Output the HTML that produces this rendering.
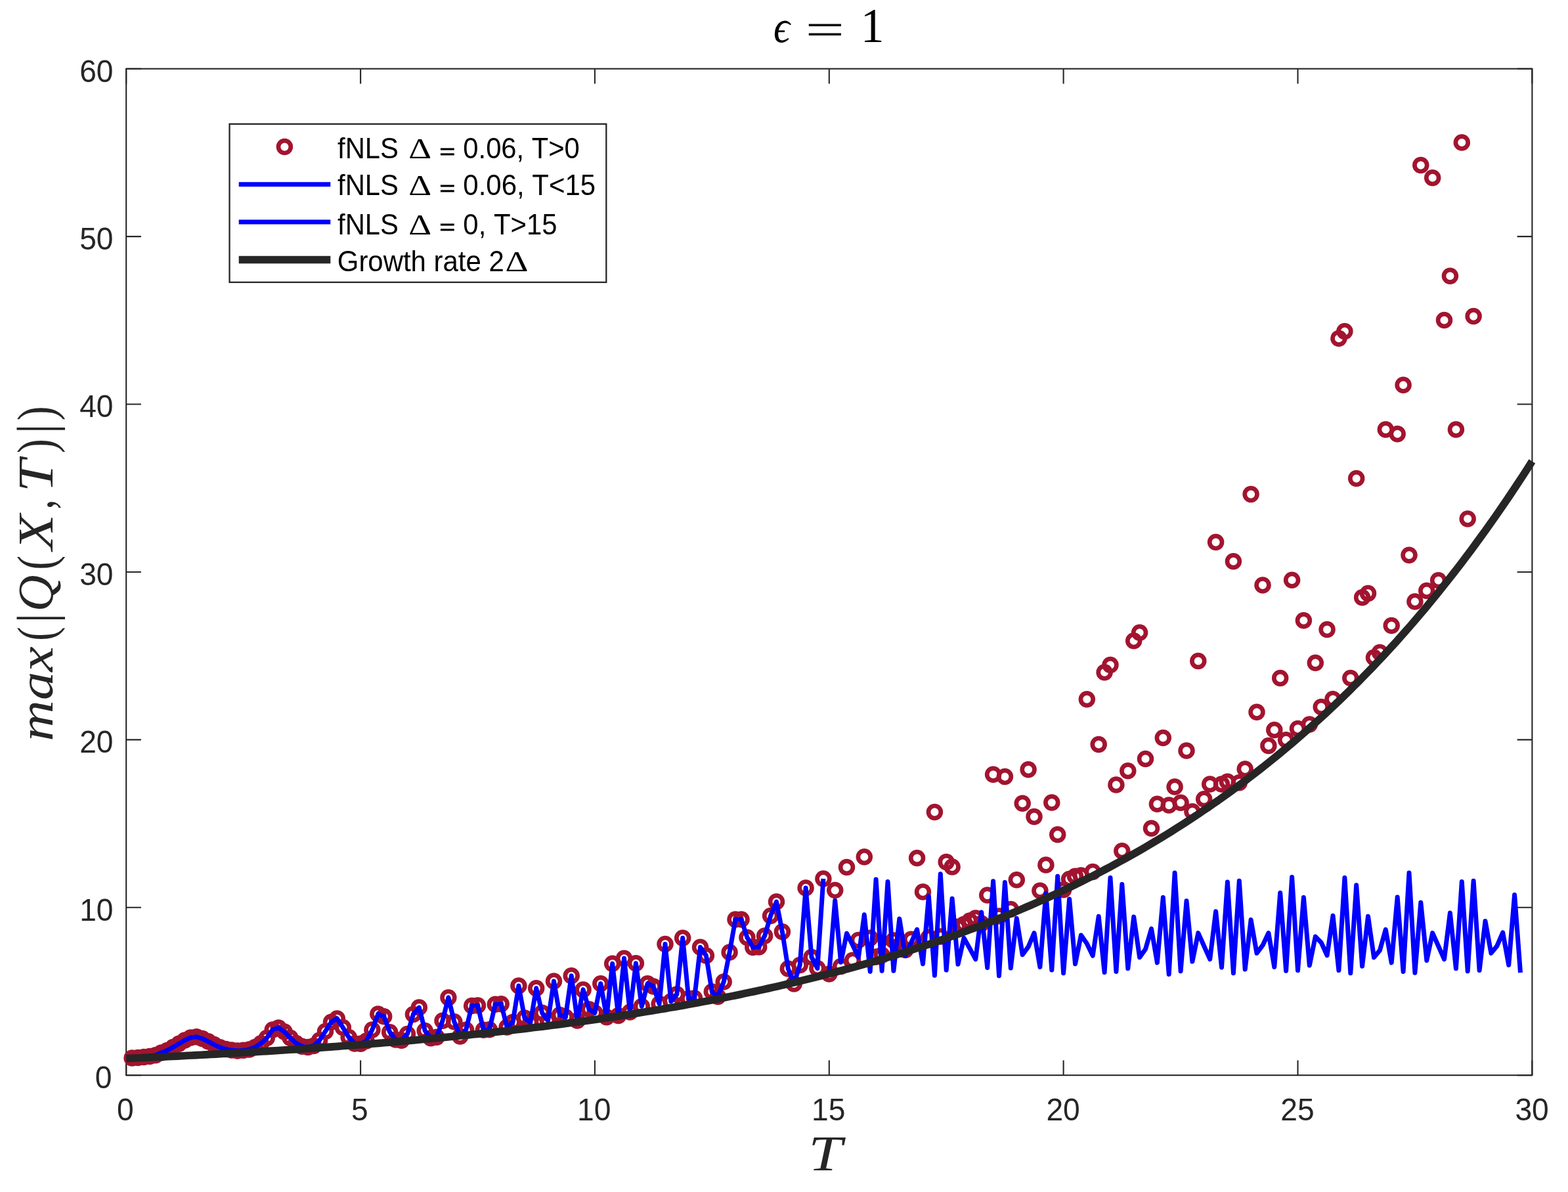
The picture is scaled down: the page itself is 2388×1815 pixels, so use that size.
<!DOCTYPE html>
<html lang="en"><head><meta charset="utf-8"><title>fNLS growth plot</title>
<style>html,body{margin:0;padding:0;background:#fff}svg{display:block}.tk{font-family:"Liberation Sans",sans-serif;font-size:48px;fill:#262626}.lg{font-family:"Liberation Sans",sans-serif;font-size:42.5px;fill:#000}.mi{font-family:"Liberation Serif","DejaVu Serif",serif;font-style:italic;fill:#262626}.mr{font-family:"Liberation Serif","DejaVu Serif",serif;fill:#000}</style></head><body>
<svg width="2388" height="1815" viewBox="0 0 2388 1815">
<rect width="2388" height="1815" fill="#fff"/>
<g stroke="#262626" stroke-width="2.1" fill="none">
<rect x="192.2" y="104.7" width="2141.2" height="1532.5"/>
<path d="M192.2 1637.2v-22.7M192.2 104.7v22.7M549.1 1637.2v-22.7M549.1 104.7v22.7M905.9 1637.2v-22.7M905.9 104.7v22.7M1262.8 1637.2v-22.7M1262.8 104.7v22.7M1619.6 1637.2v-22.7M1619.6 104.7v22.7M1976.5 1637.2v-22.7M1976.5 104.7v22.7M2333.3 1637.2v-22.7M2333.3 104.7v22.7M192.2 1637.2h22.7M2333.3 1637.2h-22.7M192.2 1381.8h22.7M2333.3 1381.8h-22.7M192.2 1126.4h22.7M2333.3 1126.4h-22.7M192.2 871.0h22.7M2333.3 871.0h-22.7M192.2 615.5h22.7M2333.3 615.5h-22.7M192.2 360.1h22.7M2333.3 360.1h-22.7M192.2 104.7h22.7M2333.3 104.7h-22.7"/>
</g>
<g fill="none" stroke="#a2142f" stroke-width="6.70">
<circle cx="201.1" cy="1611.0" r="9.40"/>
<circle cx="210.0" cy="1610.5" r="9.40"/>
<circle cx="219.0" cy="1609.6" r="9.40"/>
<circle cx="227.9" cy="1608.5" r="9.40"/>
<circle cx="236.8" cy="1606.7" r="9.40"/>
<circle cx="245.7" cy="1603.1" r="9.40"/>
<circle cx="254.7" cy="1599.5" r="9.40"/>
<circle cx="263.6" cy="1594.6" r="9.40"/>
<circle cx="272.5" cy="1589.2" r="9.40"/>
<circle cx="281.4" cy="1584.0" r="9.40"/>
<circle cx="290.3" cy="1579.9" r="9.40"/>
<circle cx="299.3" cy="1578.8" r="9.40"/>
<circle cx="308.2" cy="1581.5" r="9.40"/>
<circle cx="317.1" cy="1585.8" r="9.40"/>
<circle cx="326.0" cy="1590.6" r="9.40"/>
<circle cx="334.9" cy="1594.8" r="9.40"/>
<circle cx="343.9" cy="1597.5" r="9.40"/>
<circle cx="352.8" cy="1599.1" r="9.40"/>
<circle cx="361.7" cy="1600.0" r="9.40"/>
<circle cx="370.6" cy="1599.3" r="9.40"/>
<circle cx="379.6" cy="1597.9" r="9.40"/>
<circle cx="388.5" cy="1594.6" r="9.40"/>
<circle cx="397.4" cy="1588.7" r="9.40"/>
<circle cx="406.3" cy="1580.5" r="9.40"/>
<circle cx="415.2" cy="1567.9" r="9.40"/>
<circle cx="424.2" cy="1565.0" r="9.40"/>
<circle cx="433.1" cy="1571.1" r="9.40"/>
<circle cx="442.0" cy="1580.2" r="9.40"/>
<circle cx="450.9" cy="1588.5" r="9.40"/>
<circle cx="459.8" cy="1593.2" r="9.40"/>
<circle cx="468.8" cy="1594.4" r="9.40"/>
<circle cx="477.7" cy="1592.5" r="9.40"/>
<circle cx="486.6" cy="1584.1" r="9.40"/>
<circle cx="495.5" cy="1570.4" r="9.40"/>
<circle cx="504.5" cy="1556.3" r="9.40"/>
<circle cx="513.4" cy="1550.9" r="9.40"/>
<circle cx="522.3" cy="1564.6" r="9.40"/>
<circle cx="531.2" cy="1579.4" r="9.40"/>
<circle cx="540.1" cy="1588.9" r="9.40"/>
<circle cx="549.1" cy="1589.3" r="9.40"/>
<circle cx="558.0" cy="1584.9" r="9.40"/>
<circle cx="566.9" cy="1567.9" r="9.40"/>
<circle cx="575.8" cy="1544.0" r="9.40"/>
<circle cx="584.7" cy="1547.8" r="9.40"/>
<circle cx="593.7" cy="1571.7" r="9.40"/>
<circle cx="602.6" cy="1583.1" r="9.40"/>
<circle cx="611.5" cy="1584.2" r="9.40"/>
<circle cx="620.4" cy="1574.4" r="9.40"/>
<circle cx="629.4" cy="1544.4" r="9.40"/>
<circle cx="638.3" cy="1534.1" r="9.40"/>
<circle cx="647.2" cy="1569.4" r="9.40"/>
<circle cx="656.1" cy="1580.8" r="9.40"/>
<circle cx="665.0" cy="1579.2" r="9.40"/>
<circle cx="674.0" cy="1554.2" r="9.40"/>
<circle cx="682.9" cy="1518.9" r="9.40"/>
<circle cx="691.8" cy="1555.8" r="9.40"/>
<circle cx="700.7" cy="1578.1" r="9.40"/>
<circle cx="709.6" cy="1568.3" r="9.40"/>
<circle cx="718.6" cy="1531.4" r="9.40"/>
<circle cx="727.5" cy="1530.9" r="9.40"/>
<circle cx="736.4" cy="1568.3" r="9.40"/>
<circle cx="745.3" cy="1567.8" r="9.40"/>
<circle cx="754.3" cy="1529.2" r="9.40"/>
<circle cx="763.2" cy="1528.7" r="9.40"/>
<circle cx="772.1" cy="1564.0" r="9.40"/>
<circle cx="781.0" cy="1556.4" r="9.40"/>
<circle cx="789.9" cy="1501.0" r="9.40"/>
<circle cx="798.9" cy="1549.9" r="9.40"/>
<circle cx="807.8" cy="1556.9" r="9.40"/>
<circle cx="816.7" cy="1504.8" r="9.40"/>
<circle cx="825.6" cy="1542.3" r="9.40"/>
<circle cx="834.5" cy="1554.2" r="9.40"/>
<circle cx="843.5" cy="1494.0" r="9.40"/>
<circle cx="852.4" cy="1545.5" r="9.40"/>
<circle cx="861.3" cy="1548.7" r="9.40"/>
<circle cx="870.2" cy="1485.8" r="9.40"/>
<circle cx="879.2" cy="1554.1" r="9.40"/>
<circle cx="888.1" cy="1506.9" r="9.40"/>
<circle cx="897.0" cy="1536.8" r="9.40"/>
<circle cx="905.9" cy="1542.2" r="9.40"/>
<circle cx="914.8" cy="1497.7" r="9.40"/>
<circle cx="923.8" cy="1548.7" r="9.40"/>
<circle cx="932.7" cy="1467.3" r="9.40"/>
<circle cx="941.6" cy="1546.5" r="9.40"/>
<circle cx="950.5" cy="1459.2" r="9.40"/>
<circle cx="959.4" cy="1541.1" r="9.40"/>
<circle cx="968.4" cy="1466.8" r="9.40"/>
<circle cx="977.3" cy="1532.4" r="9.40"/>
<circle cx="986.2" cy="1497.7" r="9.40"/>
<circle cx="995.1" cy="1502.0" r="9.40"/>
<circle cx="1004.1" cy="1528.6" r="9.40"/>
<circle cx="1013.0" cy="1437.4" r="9.40"/>
<circle cx="1021.9" cy="1524.8" r="9.40"/>
<circle cx="1030.8" cy="1514.0" r="9.40"/>
<circle cx="1039.7" cy="1428.2" r="9.40"/>
<circle cx="1048.7" cy="1520.5" r="9.40"/>
<circle cx="1057.6" cy="1519.9" r="9.40"/>
<circle cx="1066.5" cy="1442.3" r="9.40"/>
<circle cx="1075.4" cy="1455.0" r="9.40"/>
<circle cx="1084.3" cy="1510.0" r="9.40"/>
<circle cx="1093.3" cy="1517.5" r="9.40"/>
<circle cx="1102.2" cy="1495.0" r="9.40"/>
<circle cx="1111.1" cy="1450.0" r="9.40"/>
<circle cx="1120.0" cy="1400.0" r="9.40"/>
<circle cx="1129.0" cy="1400.0" r="9.40"/>
<circle cx="1137.9" cy="1427.5" r="9.40"/>
<circle cx="1146.8" cy="1442.5" r="9.40"/>
<circle cx="1155.7" cy="1441.9" r="9.40"/>
<circle cx="1164.6" cy="1425.0" r="9.40"/>
<circle cx="1173.6" cy="1394.4" r="9.40"/>
<circle cx="1182.5" cy="1373.1" r="9.40"/>
<circle cx="1191.4" cy="1418.8" r="9.40"/>
<circle cx="1200.3" cy="1475.0" r="9.40"/>
<circle cx="1209.2" cy="1498.0" r="9.40"/>
<circle cx="1218.2" cy="1469.4" r="9.40"/>
<circle cx="1227.1" cy="1351.9" r="9.40"/>
<circle cx="1236.0" cy="1457.5" r="9.40"/>
<circle cx="1244.9" cy="1474.4" r="9.40"/>
<circle cx="1253.9" cy="1338.1" r="9.40"/>
<circle cx="1262.8" cy="1483.0" r="9.40"/>
<circle cx="1271.7" cy="1355.6" r="9.40"/>
<circle cx="1280.6" cy="1471.6" r="9.40"/>
<circle cx="1289.5" cy="1320.5" r="9.40"/>
<circle cx="1298.5" cy="1462.3" r="9.40"/>
<circle cx="1307.4" cy="1431.4" r="9.40"/>
<circle cx="1316.3" cy="1304.7" r="9.40"/>
<circle cx="1325.2" cy="1428.2" r="9.40"/>
<circle cx="1334.1" cy="1456.9" r="9.40"/>
<circle cx="1343.1" cy="1454.2" r="9.40"/>
<circle cx="1352.0" cy="1445.0" r="9.40"/>
<circle cx="1360.9" cy="1432.0" r="9.40"/>
<circle cx="1369.8" cy="1440.1" r="9.40"/>
<circle cx="1378.8" cy="1446.6" r="9.40"/>
<circle cx="1387.7" cy="1430.3" r="9.40"/>
<circle cx="1396.6" cy="1306.5" r="9.40"/>
<circle cx="1405.5" cy="1357.9" r="9.40"/>
<circle cx="1414.4" cy="1427.6" r="9.40"/>
<circle cx="1423.4" cy="1236.4" r="9.40"/>
<circle cx="1432.3" cy="1426.0" r="9.40"/>
<circle cx="1441.2" cy="1312.6" r="9.40"/>
<circle cx="1450.1" cy="1319.9" r="9.40"/>
<circle cx="1459.0" cy="1411.3" r="9.40"/>
<circle cx="1468.0" cy="1407.5" r="9.40"/>
<circle cx="1476.9" cy="1402.1" r="9.40"/>
<circle cx="1485.8" cy="1398.0" r="9.40"/>
<circle cx="1494.7" cy="1406.3" r="9.40"/>
<circle cx="1503.7" cy="1363.1" r="9.40"/>
<circle cx="1512.6" cy="1179.2" r="9.40"/>
<circle cx="1521.5" cy="1394.9" r="9.40"/>
<circle cx="1530.4" cy="1182.6" r="9.40"/>
<circle cx="1539.3" cy="1384.6" r="9.40"/>
<circle cx="1548.3" cy="1339.8" r="9.40"/>
<circle cx="1557.2" cy="1223.3" r="9.40"/>
<circle cx="1566.1" cy="1171.7" r="9.40"/>
<circle cx="1575.0" cy="1243.6" r="9.40"/>
<circle cx="1583.9" cy="1356.3" r="9.40"/>
<circle cx="1592.9" cy="1317.1" r="9.40"/>
<circle cx="1601.8" cy="1222.1" r="9.40"/>
<circle cx="1610.7" cy="1270.8" r="9.40"/>
<circle cx="1619.6" cy="1354.7" r="9.40"/>
<circle cx="1628.6" cy="1338.6" r="9.40"/>
<circle cx="1637.5" cy="1334.2" r="9.40"/>
<circle cx="1646.4" cy="1333.1" r="9.40"/>
<circle cx="1655.3" cy="1064.8" r="9.40"/>
<circle cx="1664.2" cy="1327.4" r="9.40"/>
<circle cx="1673.2" cy="1133.5" r="9.40"/>
<circle cx="1682.1" cy="1023.8" r="9.40"/>
<circle cx="1691.0" cy="1012.6" r="9.40"/>
<circle cx="1699.9" cy="1195.0" r="9.40"/>
<circle cx="1708.8" cy="1295.7" r="9.40"/>
<circle cx="1717.8" cy="1173.7" r="9.40"/>
<circle cx="1726.7" cy="975.8" r="9.40"/>
<circle cx="1735.6" cy="963.3" r="9.40"/>
<circle cx="1744.5" cy="1155.4" r="9.40"/>
<circle cx="1753.5" cy="1261.3" r="9.40"/>
<circle cx="1762.4" cy="1224.2" r="9.40"/>
<circle cx="1771.3" cy="1123.5" r="9.40"/>
<circle cx="1780.2" cy="1226.1" r="9.40"/>
<circle cx="1789.1" cy="1198.1" r="9.40"/>
<circle cx="1798.1" cy="1222.3" r="9.40"/>
<circle cx="1807.0" cy="1143.1" r="9.40"/>
<circle cx="1815.9" cy="1235.8" r="9.40"/>
<circle cx="1824.8" cy="1006.5" r="9.40"/>
<circle cx="1833.7" cy="1216.8" r="9.40"/>
<circle cx="1842.7" cy="1194.0" r="9.40"/>
<circle cx="1851.6" cy="825.6" r="9.40"/>
<circle cx="1860.5" cy="1194.0" r="9.40"/>
<circle cx="1869.4" cy="1190.2" r="9.40"/>
<circle cx="1878.4" cy="854.7" r="9.40"/>
<circle cx="1887.3" cy="1191.7" r="9.40"/>
<circle cx="1896.2" cy="1171.0" r="9.40"/>
<circle cx="1905.1" cy="752.6" r="9.40"/>
<circle cx="1914.0" cy="1084.3" r="9.40"/>
<circle cx="1923.0" cy="890.9" r="9.40"/>
<circle cx="1931.9" cy="1135.4" r="9.40"/>
<circle cx="1940.8" cy="1111.5" r="9.40"/>
<circle cx="1949.7" cy="1032.5" r="9.40"/>
<circle cx="1958.6" cy="1126.8" r="9.40"/>
<circle cx="1967.6" cy="883.2" r="9.40"/>
<circle cx="1976.5" cy="1109.4" r="9.40"/>
<circle cx="1985.4" cy="944.8" r="9.40"/>
<circle cx="1994.3" cy="1103.1" r="9.40"/>
<circle cx="2003.3" cy="1009.2" r="9.40"/>
<circle cx="2012.2" cy="1076.4" r="9.40"/>
<circle cx="2021.1" cy="958.6" r="9.40"/>
<circle cx="2030.0" cy="1064.6" r="9.40"/>
<circle cx="2038.9" cy="515.3" r="9.40"/>
<circle cx="2047.9" cy="504.5" r="9.40"/>
<circle cx="2056.8" cy="1032.5" r="9.40"/>
<circle cx="2065.7" cy="728.6" r="9.40"/>
<circle cx="2074.6" cy="909.7" r="9.40"/>
<circle cx="2083.5" cy="903.4" r="9.40"/>
<circle cx="2092.5" cy="1001.3" r="9.40"/>
<circle cx="2101.4" cy="993.4" r="9.40"/>
<circle cx="2110.3" cy="654.0" r="9.40"/>
<circle cx="2119.2" cy="952.5" r="9.40"/>
<circle cx="2128.2" cy="660.8" r="9.40"/>
<circle cx="2137.1" cy="586.3" r="9.40"/>
<circle cx="2146.0" cy="845.2" r="9.40"/>
<circle cx="2154.9" cy="916.0" r="9.40"/>
<circle cx="2163.8" cy="251.6" r="9.40"/>
<circle cx="2172.8" cy="899.5" r="9.40"/>
<circle cx="2181.7" cy="270.8" r="9.40"/>
<circle cx="2190.6" cy="883.7" r="9.40"/>
<circle cx="2199.5" cy="487.5" r="9.40"/>
<circle cx="2208.4" cy="420.3" r="9.40"/>
<circle cx="2217.4" cy="654.0" r="9.40"/>
<circle cx="2226.3" cy="217.0" r="9.40"/>
<circle cx="2235.2" cy="789.9" r="9.40"/>
<circle cx="2244.1" cy="481.6" r="9.40"/>
</g>
<polyline fill="none" stroke="#0000ff" stroke-width="7.0" stroke-linejoin="round" stroke-linecap="butt" points="201.1,1611.0 210.0,1610.5 219.0,1609.6 227.9,1608.5 236.8,1606.7 245.7,1603.1 254.7,1599.5 263.6,1594.6 272.5,1589.2 281.4,1584.0 290.3,1579.9 299.3,1578.8 308.2,1581.5 317.1,1585.8 326.0,1590.6 334.9,1594.8 343.9,1597.5 352.8,1599.1 361.7,1600.0 370.6,1599.3 379.6,1597.9 388.5,1594.6 397.4,1588.7 406.3,1580.5 415.2,1567.9 424.2,1565.0 433.1,1571.1 442.0,1580.2 450.9,1588.5 459.8,1593.2 468.8,1594.4 477.7,1592.5 486.6,1584.1 495.5,1570.4 504.5,1556.3 513.4,1550.9 522.3,1564.6 531.2,1579.4 540.1,1588.9 549.1,1589.3 558.0,1584.9 566.9,1567.9 575.8,1544.0 584.7,1547.8 593.7,1571.7 602.6,1583.1 611.5,1584.2 620.4,1574.4 629.4,1544.4 638.3,1534.1 647.2,1569.4 656.1,1580.8 665.0,1579.2 674.0,1554.2 682.9,1518.9 691.8,1555.8 700.7,1578.1 709.6,1568.3 718.6,1531.4 727.5,1530.9 736.4,1568.3 745.3,1567.8 754.3,1529.2 763.2,1528.7 772.1,1564.0 781.0,1556.4 789.9,1501.0 798.9,1549.9 807.8,1556.9 816.7,1504.8 825.6,1542.3 834.5,1554.2 843.5,1494.0 852.4,1545.5 861.3,1548.7 870.2,1485.8 879.2,1554.1 888.1,1506.9 897.0,1536.8 905.9,1542.2 914.8,1497.7 923.8,1548.7 932.7,1467.3 941.6,1546.5 950.5,1459.2 959.4,1541.1 968.4,1466.8 977.3,1532.4 986.2,1497.7 995.1,1502.0 1004.1,1528.6 1013.0,1437.4 1021.9,1524.8 1030.8,1514.0 1039.7,1428.2 1048.7,1520.5 1057.6,1519.9 1066.5,1442.3 1075.4,1455.0 1084.3,1510.0 1093.3,1517.5 1102.2,1495.0 1111.1,1450.0 1120.0,1400.0 1129.0,1400.0 1137.9,1427.5 1146.8,1442.5 1155.7,1441.9 1164.6,1425.0 1173.6,1394.4 1182.5,1373.1 1191.4,1418.8 1200.3,1475.0 1209.2,1498.0 1218.2,1469.4 1227.1,1351.9 1236.0,1457.5 1244.9,1474.4 1253.9,1338.1"/>
<polyline fill="none" stroke="#0000ff" stroke-width="7.0" stroke-linejoin="round" stroke-linecap="butt" points="1262.8,1481.2 1271.7,1371.2 1280.6,1465.2 1289.5,1421.2 1298.5,1438.9 1307.4,1457.7 1316.3,1392.8 1325.2,1479.2 1334.1,1338.9 1343.1,1478.2 1352.0,1342.4 1360.9,1478.2 1369.8,1398.9 1378.8,1455.3 1387.7,1435.2 1396.6,1415.3 1405.5,1467.7 1414.4,1364.8 1423.4,1485.3 1432.3,1330.7 1441.2,1477.1 1450.1,1368.3 1459.0,1468.2 1468.0,1428.3 1476.9,1444.1 1485.8,1460.6 1494.7,1388.9 1503.7,1473.5 1512.6,1341.8 1521.5,1485.9 1530.4,1343.6 1539.3,1474.1 1548.3,1398.3 1557.2,1453.7 1566.1,1441.7 1575.0,1420.6 1583.9,1472.4 1592.9,1360.1 1601.8,1477.1 1610.7,1334.2 1619.6,1481.8 1628.6,1368.9 1637.5,1467.7 1646.4,1424.0 1655.3,1436.8 1664.2,1455.3 1673.2,1395.3 1682.1,1480.6 1691.0,1336.5 1699.9,1479.4 1708.8,1346.5 1717.8,1474.7 1726.7,1395.9 1735.6,1457.8 1744.5,1445.2 1753.5,1414.1 1762.4,1465.9 1771.3,1366.5 1780.2,1483.5 1789.1,1328.9 1798.1,1478.8 1807.0,1371.8 1815.9,1464.1 1824.8,1420.6 1833.7,1440.5 1842.7,1460.6 1851.6,1387.7 1860.5,1472.9 1869.4,1343.0 1878.4,1481.8 1887.3,1341.2 1896.2,1475.9 1905.1,1400.6 1914.0,1451.3 1923.0,1439.4 1931.9,1420.6 1940.8,1472.4 1949.7,1359.5 1958.6,1478.2 1967.6,1335.4 1976.5,1477.6 1985.4,1366.5 1994.3,1470.0 2003.3,1426.1 2012.2,1435.2 2021.1,1454.7 2030.0,1394.2 2038.9,1477.6 2047.9,1336.5 2056.8,1481.8 2065.7,1347.7 2074.6,1471.2 2083.5,1395.3 2092.5,1457.9 2101.4,1447.0 2110.3,1415.3 2119.2,1465.9 2128.2,1365.9 2137.1,1479.4 2146.0,1328.9 2154.9,1481.2 2163.8,1374.2 2172.8,1462.4 2181.7,1420.6 2190.6,1440.5 2199.5,1460.6 2208.4,1390.0 2217.4,1474.7 2226.3,1342.4 2235.2,1478.8 2244.1,1341.2 2253.1,1477.6 2262.0,1402.4 2270.9,1451.4 2279.8,1440.5 2288.7,1420.0 2297.7,1469.4 2306.6,1362.4 2315.5,1481.1"/>
<polyline fill="none" stroke="#262626" stroke-width="11.6" stroke-linejoin="round" points="192.2,1611.7 199.3,1611.3 206.5,1611.0 213.6,1610.7 220.7,1610.4 227.9,1610.1 235.0,1609.8 242.2,1609.4 249.3,1609.1 256.4,1608.7 263.6,1608.4 270.7,1608.1 277.8,1607.7 285.0,1607.3 292.1,1607.0 299.3,1606.6 306.4,1606.3 313.5,1605.9 320.7,1605.5 327.8,1605.1 334.9,1604.7 342.1,1604.3 349.2,1603.9 356.4,1603.5 363.5,1603.1 370.6,1602.7 377.8,1602.3 384.9,1601.9 392.0,1601.5 399.2,1601.0 406.3,1600.6 413.5,1600.1 420.6,1599.7 427.7,1599.2 434.9,1598.8 442.0,1598.3 449.1,1597.9 456.3,1597.4 463.4,1596.9 470.5,1596.4 477.7,1595.9 484.8,1595.4 492.0,1594.9 499.1,1594.4 506.2,1593.9 513.4,1593.4 520.5,1592.8 527.6,1592.3 534.8,1591.8 541.9,1591.2 549.1,1590.7 556.2,1590.1 563.3,1589.5 570.5,1589.0 577.6,1588.4 584.7,1587.8 591.9,1587.2 599.0,1586.6 606.2,1586.0 613.3,1585.4 620.4,1584.7 627.6,1584.1 634.7,1583.5 641.8,1582.8 649.0,1582.1 656.1,1581.5 663.3,1580.8 670.4,1580.1 677.5,1579.4 684.7,1578.7 691.8,1578.0 698.9,1577.3 706.1,1576.6 713.2,1575.9 720.4,1575.1 727.5,1574.4 734.6,1573.6 741.8,1572.9 748.9,1572.1 756.0,1571.3 763.2,1570.5 770.3,1569.7 777.4,1568.9 784.6,1568.0 791.7,1567.2 798.9,1566.4 806.0,1565.5 813.1,1564.6 820.3,1563.8 827.4,1562.9 834.5,1562.0 841.7,1561.1 848.8,1560.2 856.0,1559.2 863.1,1558.3 870.2,1557.3 877.4,1556.4 884.5,1555.4 891.6,1554.4 898.8,1553.4 905.9,1552.4 913.1,1551.4 920.2,1550.3 927.3,1549.3 934.5,1548.2 941.6,1547.2 948.7,1546.1 955.9,1545.0 963.0,1543.9 970.2,1542.7 977.3,1541.6 984.4,1540.4 991.6,1539.3 998.7,1538.1 1005.8,1536.9 1013.0,1535.7 1020.1,1534.4 1027.2,1533.2 1034.4,1532.0 1041.5,1530.7 1048.7,1529.4 1055.8,1528.1 1062.9,1526.8 1070.1,1525.4 1077.2,1524.1 1084.3,1522.7 1091.5,1521.3 1098.6,1519.9 1105.8,1518.5 1112.9,1517.1 1120.0,1515.7 1127.2,1514.2 1134.3,1512.7 1141.4,1511.2 1148.6,1509.7 1155.7,1508.1 1162.9,1506.6 1170.0,1505.0 1177.1,1503.4 1184.3,1501.8 1191.4,1500.2 1198.5,1498.5 1205.7,1496.8 1212.8,1495.1 1220.0,1493.4 1227.1,1491.7 1234.2,1489.9 1241.4,1488.1 1248.5,1486.3 1255.6,1484.5 1262.8,1482.7 1269.9,1480.8 1277.0,1478.9 1284.2,1477.0 1291.3,1475.1 1298.5,1473.1 1305.6,1471.1 1312.7,1469.1 1319.9,1467.1 1327.0,1465.1 1334.1,1463.0 1341.3,1460.9 1348.4,1458.7 1355.6,1456.6 1362.7,1454.4 1369.8,1452.2 1377.0,1450.0 1384.1,1447.7 1391.2,1445.4 1398.4,1443.1 1405.5,1440.8 1412.7,1438.4 1419.8,1436.0 1426.9,1433.6 1434.1,1431.1 1441.2,1428.6 1448.3,1426.1 1455.5,1423.6 1462.6,1421.0 1469.8,1418.4 1476.9,1415.7 1484.0,1413.1 1491.2,1410.3 1498.3,1407.6 1505.4,1404.8 1512.6,1402.0 1519.7,1399.2 1526.9,1396.3 1534.0,1393.4 1541.1,1390.5 1548.3,1387.5 1555.4,1384.5 1562.5,1381.4 1569.7,1378.3 1576.8,1375.2 1583.9,1372.0 1591.1,1368.8 1598.2,1365.6 1605.4,1362.3 1612.5,1359.0 1619.6,1355.6 1626.8,1352.3 1633.9,1348.8 1641.0,1345.3 1648.2,1341.8 1655.3,1338.2 1662.5,1334.6 1669.6,1331.0 1676.7,1327.3 1683.9,1323.5 1691.0,1319.8 1698.1,1315.9 1705.3,1312.0 1712.4,1308.1 1719.6,1304.1 1726.7,1300.1 1733.8,1296.1 1741.0,1291.9 1748.1,1287.8 1755.2,1283.5 1762.4,1279.3 1769.5,1275.0 1776.7,1270.6 1783.8,1266.2 1790.9,1261.7 1798.1,1257.1 1805.2,1252.6 1812.3,1247.9 1819.5,1243.2 1826.6,1238.5 1833.7,1233.6 1840.9,1228.8 1848.0,1223.8 1855.2,1218.9 1862.3,1213.8 1869.4,1208.7 1876.6,1203.5 1883.7,1198.3 1890.8,1193.0 1898.0,1187.6 1905.1,1182.2 1912.3,1176.7 1919.4,1171.1 1926.5,1165.5 1933.7,1159.8 1940.8,1154.1 1947.9,1148.2 1955.1,1142.3 1962.2,1136.3 1969.4,1130.3 1976.5,1124.2 1983.6,1118.0 1990.8,1111.7 1997.9,1105.4 2005.0,1099.0 2012.2,1092.5 2019.3,1085.9 2026.5,1079.2 2033.6,1072.5 2040.7,1065.7 2047.9,1058.8 2055.0,1051.8 2062.1,1044.7 2069.3,1037.6 2076.4,1030.3 2083.5,1023.0 2090.7,1015.6 2097.8,1008.1 2105.0,1000.5 2112.1,992.8 2119.2,985.0 2126.4,977.2 2133.5,969.2 2140.6,961.1 2147.8,953.0 2154.9,944.7 2162.1,936.3 2169.2,927.9 2176.3,919.3 2183.5,910.6 2190.6,901.9 2197.7,893.0 2204.9,884.0 2212.0,874.9 2219.2,865.7 2226.3,856.4 2233.4,847.0 2240.6,837.4 2247.7,827.8 2254.8,818.0 2262.0,808.1 2269.1,798.1 2276.3,788.0 2283.4,777.7 2290.5,767.4 2297.7,756.9 2304.8,746.2 2311.9,735.5 2319.1,724.6 2326.2,713.6 2333.3,702.4"/>
<g class="tk" style="font-kerning:none;font-variant-ligatures:none">
<text y="1705.5"><tspan x="178.06" textLength="25.68" lengthAdjust="spacingAndGlyphs" style="font-family:'Liberation Sans',sans-serif;font-size:48.00px">0</tspan></text>
<text y="1705.5"><tspan x="534.96" textLength="25.68" lengthAdjust="spacingAndGlyphs" style="font-family:'Liberation Sans',sans-serif;font-size:48.00px">5</tspan></text>
<text y="1705.5"><tspan x="879.08" textLength="51.36" lengthAdjust="spacingAndGlyphs" style="font-family:'Liberation Sans',sans-serif;font-size:48.00px">10</tspan></text>
<text y="1705.5"><tspan x="1236.00" textLength="51.36" lengthAdjust="spacingAndGlyphs" style="font-family:'Liberation Sans',sans-serif;font-size:48.00px">15</tspan></text>
<text y="1705.5"><tspan x="1593.39" textLength="51.36" lengthAdjust="spacingAndGlyphs" style="font-family:'Liberation Sans',sans-serif;font-size:48.00px">20</tspan></text>
<text y="1705.5"><tspan x="1950.32" textLength="51.36" lengthAdjust="spacingAndGlyphs" style="font-family:'Liberation Sans',sans-serif;font-size:48.00px">25</tspan></text>
<text y="1705.5"><tspan x="2307.39" textLength="51.36" lengthAdjust="spacingAndGlyphs" style="font-family:'Liberation Sans',sans-serif;font-size:48.00px">30</tspan></text>
<text y="1657.0"><tspan x="144.87" textLength="25.68" lengthAdjust="spacingAndGlyphs" style="font-family:'Liberation Sans',sans-serif;font-size:48.00px">0</tspan></text>
<text y="1401.6"><tspan x="121.19" textLength="51.36" lengthAdjust="spacingAndGlyphs" style="font-family:'Liberation Sans',sans-serif;font-size:48.00px">10</tspan></text>
<text y="1146.2"><tspan x="121.19" textLength="51.36" lengthAdjust="spacingAndGlyphs" style="font-family:'Liberation Sans',sans-serif;font-size:48.00px">20</tspan></text>
<text y="890.8"><tspan x="121.19" textLength="51.36" lengthAdjust="spacingAndGlyphs" style="font-family:'Liberation Sans',sans-serif;font-size:48.00px">30</tspan></text>
<text y="635.3"><tspan x="121.19" textLength="51.36" lengthAdjust="spacingAndGlyphs" style="font-family:'Liberation Sans',sans-serif;font-size:48.00px">40</tspan></text>
<text y="379.9"><tspan x="121.19" textLength="51.36" lengthAdjust="spacingAndGlyphs" style="font-family:'Liberation Sans',sans-serif;font-size:48.00px">50</tspan></text>
<text y="124.5"><tspan x="121.19" textLength="51.36" lengthAdjust="spacingAndGlyphs" style="font-family:'Liberation Sans',sans-serif;font-size:48.00px">60</tspan></text>
</g>
<text fill="#262626" y="1782.4" style="font-kerning:none;font-variant-ligatures:none"><tspan x="1231.17" textLength="51.29" lengthAdjust="spacingAndGlyphs" style="font-family:'Liberation Serif','DejaVu Serif',serif;font-style:italic;font-size:76.00px">T</tspan></text>
<text fill="#262626" transform="translate(80,1140.0) rotate(-90)" style="font-kerning:none;font-variant-ligatures:none"><tspan x="11.27" textLength="144.47" lengthAdjust="spacingAndGlyphs" style="font-family:'Liberation Serif','DejaVu Serif',serif;font-style:italic;font-size:73.00px">max</tspan><tspan x="164.29" y="1.50" textLength="21.26" lengthAdjust="spacingAndGlyphs" style="font-family:'Liberation Serif','DejaVu Serif',serif;font-size:80.50px">(</tspan><tspan x="191.61" y="1.50" textLength="14.87" lengthAdjust="spacingAndGlyphs" style="font-family:'Liberation Serif','DejaVu Serif',serif;font-size:80.50px">|</tspan><tspan x="208.65" y="0.00" textLength="55.57" lengthAdjust="spacingAndGlyphs" style="font-family:'Liberation Serif','DejaVu Serif',serif;font-style:italic;font-size:76.00px">Q</tspan><tspan x="272.31" y="1.50" textLength="21.91" lengthAdjust="spacingAndGlyphs" style="font-family:'Liberation Serif','DejaVu Serif',serif;font-size:80.50px">(</tspan><tspan x="302.26" y="0.00" textLength="54.47" lengthAdjust="spacingAndGlyphs" style="font-family:'Liberation Serif','DejaVu Serif',serif;font-style:italic;font-size:76.00px">X</tspan><tspan x="364.52" y="0.00" textLength="14.94" lengthAdjust="spacingAndGlyphs" style="font-family:'Liberation Serif','DejaVu Serif',serif;font-size:80.00px">,</tspan><tspan x="390.77" y="0.00" textLength="49.57" lengthAdjust="spacingAndGlyphs" style="font-family:'Liberation Serif','DejaVu Serif',serif;font-style:italic;font-size:76.00px">T</tspan><tspan x="449.88" y="1.50" textLength="21.91" lengthAdjust="spacingAndGlyphs" style="font-family:'Liberation Serif','DejaVu Serif',serif;font-size:80.50px">)</tspan><tspan x="479.71" y="1.50" textLength="14.87" lengthAdjust="spacingAndGlyphs" style="font-family:'Liberation Serif','DejaVu Serif',serif;font-size:80.50px">|</tspan><tspan x="499.79" y="1.50" textLength="21.78" lengthAdjust="spacingAndGlyphs" style="font-family:'Liberation Serif','DejaVu Serif',serif;font-size:80.50px">)</tspan></text>
<text fill="#000" y="64.2" style="font-kerning:none;font-variant-ligatures:none"><tspan x="1178.06" textLength="24.95" lengthAdjust="spacingAndGlyphs" style="font-family:'Liberation Serif','DejaVu Serif',serif;font-style:italic;font-size:69.00px">ϵ</tspan><tspan x="1200.20" y="68.60" textLength="86.06" lengthAdjust="spacingAndGlyphs" style="font-family:'Liberation Serif','DejaVu Serif',serif;font-size:69.60px"> =</tspan><tspan x="1292.81" y="64.20" textLength="53.69" lengthAdjust="spacingAndGlyphs" style="font-family:'Liberation Serif','DejaVu Serif',serif;font-size:75.00px"> 1</tspan></text>
<rect x="349.55" y="188.8" width="573.75" height="241.0" fill="#fff" stroke="#262626" stroke-width="2.3"/>
<circle cx="433.4" cy="223.6" r="9.40" fill="none" stroke="#a2142f" stroke-width="6.70"/>
<path d="M363.7 280.8H503.3M363.7 338H503.3" stroke="#0000ff" stroke-width="7.0" fill="none"/>
<path d="M363.7 395.5H503.3" stroke="#262626" stroke-width="11.6" fill="none"/>
<text fill="#000" y="241.1" style="font-kerning:none;font-variant-ligatures:none"><tspan x="514.06" textLength="92.86" lengthAdjust="spacingAndGlyphs" style="font-family:'Liberation Sans',sans-serif;font-size:44.50px">fNLS</tspan><tspan x="608.76" textLength="48.48" lengthAdjust="spacingAndGlyphs" style="font-family:'Liberation Serif','DejaVu Serif',serif;font-size:45.30px"> Δ</tspan><tspan x="658.15" y="240.60" textLength="34.95" lengthAdjust="spacingAndGlyphs" style="font-family:'Liberation Sans',sans-serif;font-size:28.60px;stroke:#000;stroke-width:0.8px"> =</tspan><tspan x="693.78" y="241.10" textLength="188.94" lengthAdjust="spacingAndGlyphs" style="font-family:'Liberation Sans',sans-serif;font-size:44.50px"> 0.06, T&gt;0</tspan></text>
<text fill="#000" y="297.4" style="font-kerning:none;font-variant-ligatures:none"><tspan x="514.06" textLength="92.86" lengthAdjust="spacingAndGlyphs" style="font-family:'Liberation Sans',sans-serif;font-size:44.50px">fNLS</tspan><tspan x="608.76" textLength="48.48" lengthAdjust="spacingAndGlyphs" style="font-family:'Liberation Serif','DejaVu Serif',serif;font-size:45.30px"> Δ</tspan><tspan x="658.15" y="296.90" textLength="34.95" lengthAdjust="spacingAndGlyphs" style="font-family:'Liberation Sans',sans-serif;font-size:28.60px;stroke:#000;stroke-width:0.8px"> =</tspan><tspan x="693.70" y="297.40" textLength="213.46" lengthAdjust="spacingAndGlyphs" style="font-family:'Liberation Sans',sans-serif;font-size:44.50px"> 0.06, T&lt;15</tspan></text>
<text fill="#000" y="356.7" style="font-kerning:none;font-variant-ligatures:none"><tspan x="514.06" textLength="92.86" lengthAdjust="spacingAndGlyphs" style="font-family:'Liberation Sans',sans-serif;font-size:44.50px">fNLS</tspan><tspan x="608.76" textLength="48.48" lengthAdjust="spacingAndGlyphs" style="font-family:'Liberation Serif','DejaVu Serif',serif;font-size:45.30px"> Δ</tspan><tspan x="658.15" y="356.20" textLength="34.95" lengthAdjust="spacingAndGlyphs" style="font-family:'Liberation Sans',sans-serif;font-size:28.60px;stroke:#000;stroke-width:0.8px"> =</tspan><tspan x="693.74" y="356.70" textLength="154.72" lengthAdjust="spacingAndGlyphs" style="font-family:'Liberation Sans',sans-serif;font-size:44.50px"> 0, T&gt;15</tspan></text>
<text fill="#000" y="412.5" style="font-kerning:none;font-variant-ligatures:none"><tspan x="513.79" textLength="254.02" lengthAdjust="spacingAndGlyphs" style="font-family:'Liberation Sans',sans-serif;font-size:44.50px">Growth rate 2</tspan><tspan x="769.53" textLength="35.02" lengthAdjust="spacingAndGlyphs" style="font-family:'Liberation Serif','DejaVu Serif',serif;font-size:45.30px">Δ</tspan></text>
</svg></body></html>
